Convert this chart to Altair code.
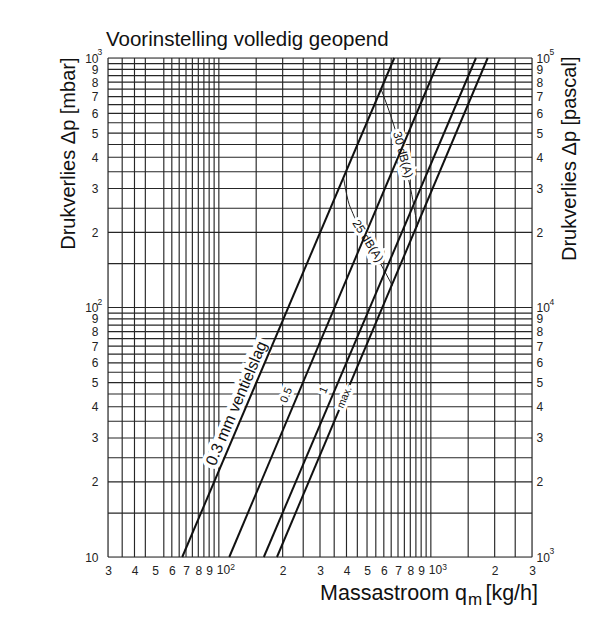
import altair as alt
import pandas as pd

# ---- data ----
settings = ["0.3", "0.5", "1", "max."]
q_at_10mbar = [67.2, 112, 163, 188]        # kg/h at 10 mbar
q_at_1000mbar = [672, 1104, 1632, 1854]    # kg/h at 1000 mbar

db30_q = [582, 635, 677, 739, 797, 864]
db30_p = [751, 614, 520, 394, 308, 211]
db25_q = [387, 407, 429, 494, 576, 658]
db25_p = [332, 268, 238, 189, 151, 122.5]

grid_x = [30, 35, 40, 45, 55, 60, 65, 70, 75, 80, 85, 90, 95, 100,
          150, 200, 250, 300, 350, 400, 450, 500, 550, 600, 650, 700,
          750, 800, 850, 900, 950, 1000, 1500, 2000, 2500, 3000]
grid_y = [10, 15, 20, 25, 30, 35, 40, 45, 50, 55, 60, 65, 70, 75, 80, 85,
          90, 95, 100, 150, 200, 250, 300, 350, 400, 450, 500, 550, 600,
          650, 700, 750, 800, 850, 900, 950, 1000]
x_ticks = [30, 40, 50, 60, 70, 80, 90, 100, 200, 300, 400, 500, 600, 700,
           800, 900, 1000, 2000, 3000]
y_ticks = [10, 20, 30, 40, 50, 60, 70, 80, 90, 100, 200, 300, 400, 500,
           600, 700, 800, 900, 1000]
pa_ticks = [1000, 2000, 3000, 4000, 5000, 6000, 7000, 8000, 9000, 10000,
            20000, 30000, 40000, 50000, 60000, 70000, 80000, 90000, 100000]

# powers of ten on the axes: base "10" plus a raised exponent
x_pow_at = [100, 1000]
x_pow_exp = ["2", "3"]
y_pow_at = [100, 1000]
y_pow_exp = ["2", "3"]
pa_pow_at = [10, 100, 1000]          # same heights as 10^3, 10^4, 10^5 Pa
pa_pow_exp = ["3", "4", "5"]

# line labels
side_lab_text = ["0.5", "1"]
side_lab_q = [209, 313]
side_lab_p = [44.5, 46.6]
inline_lab_text = ["max."]
inline_lab_q = [392]
inline_lab_p = [43.6]
db_lab_text = ["30 dB(A)", "25 dB(A)"]
db_lab_q = [739, 505]
db_lab_p = [410, 185]
db_lab_angle = [75, 58]

FONT = "Liberation Sans"
INK = "#111"
GRID = "#262626"

# ---- tables ----
lines_df = pd.DataFrame({
    "setting": settings * 2,
    "q": q_at_10mbar + q_at_1000mbar,
    "dp": [10] * 4 + [1000] * 4,
})
db_df = pd.DataFrame({
    "curve": ["30"] * len(db30_q) + ["25"] * len(db25_q),
    "q": db30_q + db25_q,
    "dp": db30_p + db25_p,
})
gx_df = pd.DataFrame({"q": grid_x})
gy_df = pd.DataFrame({"dp": grid_y})
pa_df = pd.DataFrame({"pa": pa_ticks})
main_lab = pd.DataFrame({"t": ["0.3 mm ventielslag"], "q": [134], "dp": [39.8]})
side_lab = pd.DataFrame({"t": side_lab_text, "q": side_lab_q, "dp": side_lab_p})
inline_lab = pd.DataFrame({"t": inline_lab_text, "q": inline_lab_q,
                           "dp": inline_lab_p})
db_lab = pd.DataFrame({"t": db_lab_text, "q": db_lab_q, "dp": db_lab_p,
                       "ang": db_lab_angle})
xpow_df = pd.DataFrame({"q": x_pow_at, "e": x_pow_exp, "dp": [10, 10]})
ypow_df = pd.DataFrame({"dp": y_pow_at, "e": y_pow_exp, "q": [30, 30]})
papow_df = pd.DataFrame({"dp": pa_pow_at, "e": pa_pow_exp, "q": [3000] * 3})

xs = alt.Scale(type="log", domain=[30, 3000], nice=False)
ys = alt.Scale(type="log", domain=[10, 1000], nice=False)
ps = alt.Scale(type="log", domain=[1000, 100000], nice=False)

x_axis = alt.Axis(
    values=x_ticks, grid=False, ticks=False, domain=False, labelOverlap=False,
    labelFlush=False, labelFont=FONT, labelFontSize=12, labelColor="#222",
    labelPadding=8, title=None, orient="bottom",
    labelExpr="datum.value == 100 || datum.value == 1000 ? '' : substring(toString(datum.value), 0, 1)",
)
y_axis = alt.Axis(
    values=y_ticks, grid=False, ticks=False, domain=False, labelOverlap=False,
    labelFont=FONT, labelFontSize=12, labelColor="#222", labelPadding=10,
    orient="left",
    labelExpr="datum.value == 10 || datum.value == 100 || datum.value == 1000 ? '10' : substring(toString(datum.value), 0, 1)",
    title="Drukverlies Δp [mbar]", titleFont=FONT, titleFontSize=20,
    titleFontWeight="normal", titleColor=INK, titleAngle=270,
    titleAlign="right", titleBaseline="alphabetic", titleX=-34, titleY=-1,
)
p_axis = alt.Axis(
    values=pa_ticks, grid=False, ticks=False, domain=False, labelOverlap=False,
    labelFont=FONT, labelFontSize=12, labelColor="#222", labelPadding=4,
    orient="right",
    labelExpr="datum.value == 1000 || datum.value == 10000 || datum.value == 100000 ? '10' : substring(toString(datum.value), 0, 1)",
    title="Drukverlies Δp [pascal]", titleFont=FONT, titleFontSize=20,
    titleFontWeight="normal", titleColor=INK, titleAngle=270,
    titleAlign="right", titleBaseline="alphabetic", titleX=43, titleY=-2,
)

X = alt.X("q:Q", scale=xs, axis=x_axis)
Y = alt.Y("dp:Q", scale=ys, axis=y_axis)

vgrid = alt.Chart(gx_df).mark_rule(color=GRID, strokeWidth=1.15).encode(x=X)
hgrid = alt.Chart(gy_df).mark_rule(color=GRID, strokeWidth=1.15).encode(y=Y)

db_lines = alt.Chart(db_df).mark_line(color="#222", strokeWidth=1,
                                      interpolate="monotone").encode(
    x=X, y=Y, detail="curve:N")

# label halos (white boxes behind the labels)
halo_main = alt.Chart(main_lab).mark_text(
    font=FONT, fontSize=16, angle=293, color="white", stroke="white",
    strokeWidth=8, dy=-10, baseline="middle", align="center").encode(
    x=X, y=Y, text="t:N")
halo_side = alt.Chart(side_lab).mark_text(
    font=FONT, fontSize=11, angle=293, color="white", stroke="white",
    strokeWidth=6, baseline="middle", align="center").encode(
    x=X, y=Y, text="t:N")
halo_db = alt.Chart(db_lab).mark_text(
    font=FONT, fontSize=12, color="white", stroke="white", strokeWidth=6,
    baseline="middle", align="center").encode(
    x=X, y=Y, text="t:N", angle=alt.Angle("ang:Q", scale=None))

flow = alt.Chart(lines_df).mark_line(color=INK, strokeWidth=2).encode(
    x=X, y=Y, detail="setting:N")

# inline label that interrupts its line
halo_inline = alt.Chart(inline_lab).mark_text(
    font=FONT, fontSize=10.5, angle=293, color="white", stroke="white",
    strokeWidth=6, baseline="middle", align="center").encode(
    x=X, y=Y, text="t:N")

text_main = alt.Chart(main_lab).mark_text(
    font=FONT, fontSize=16, angle=293, color=INK, dy=-10, baseline="middle",
    align="center").encode(x=X, y=Y, text="t:N")
text_side = alt.Chart(side_lab).mark_text(
    font=FONT, fontSize=11, angle=293, color=INK, baseline="middle",
    align="center").encode(x=X, y=Y, text="t:N")
text_inline = alt.Chart(inline_lab).mark_text(
    font=FONT, fontSize=10.5, angle=293, color=INK, baseline="middle",
    align="center").encode(x=X, y=Y, text="t:N")
text_db = alt.Chart(db_lab).mark_text(
    font=FONT, fontSize=12, color=INK, baseline="middle", align="center").encode(
    x=X, y=Y, text="t:N", angle=alt.Angle("ang:Q", scale=None))

# powers of ten on the axes
xpow_base = alt.Chart(xpow_df).mark_text(
    font=FONT, fontSize=12, color="#222", align="left", baseline="top",
    dx=-2, dy=8).encode(x=X, y=Y, text=alt.value("10"))
xpow_exp = alt.Chart(xpow_df).mark_text(
    font=FONT, fontSize=8.5, color="#222", align="left", baseline="top",
    dx=11.5, dy=6).encode(x=X, y=Y, text="e:N")
ypow_exp = alt.Chart(ypow_df).mark_text(
    font=FONT, fontSize=8.5, color="#222", align="left", baseline="middle",
    dx=-10.5, dy=-6).encode(x=X, y=Y, text="e:N")
papow_exp = alt.Chart(papow_df).mark_text(
    font=FONT, fontSize=8.5, color="#222", align="left", baseline="middle",
    dx=17.5, dy=-6).encode(x=X, y=Y, text="e:N")

title_df = pd.DataFrame({"t": ["Voorinstelling volledig geopend"]})
title = alt.Chart(title_df).mark_text(
    font=FONT, fontSize=20.5, color=INK, align="left",
    baseline="alphabetic").encode(text="t:N", x=alt.value(-2), y=alt.value(-12))

xt1 = alt.Chart(pd.DataFrame({"t": ["Massastroom q"]})).mark_text(
    font=FONT, fontSize=21.5, color=INK, align="right",
    baseline="alphabetic").encode(text="t:N", x=alt.value(359), y=alt.value(542))
xt2 = alt.Chart(pd.DataFrame({"t": ["m"]})).mark_text(
    font=FONT, fontSize=17, color=INK, align="left",
    baseline="alphabetic").encode(text="t:N", x=alt.value(360), y=alt.value(547))
xt3 = alt.Chart(pd.DataFrame({"t": ["[kg/h]"]})).mark_text(
    font=FONT, fontSize=21.5, color=INK, align="right",
    baseline="alphabetic").encode(text="t:N", x=alt.value(430), y=alt.value(542))

inner = alt.layer(vgrid, hgrid, db_lines, halo_main, halo_side, halo_db, flow,
                  halo_inline, text_main, text_side, text_inline, text_db,
                  xpow_base, xpow_exp, ypow_exp, papow_exp, title, xt1, xt2, xt3)

pa_layer = alt.Chart(pa_df).mark_rule(opacity=0).encode(
    y=alt.Y("pa:Q", scale=ps, axis=p_axis))

chart = alt.layer(inner, pa_layer).resolve_scale(y="independent").properties(
    width=424, height=499,
    padding={"left": 100, "top": 50, "right": 60, "bottom": 56},
    autosize=alt.AutoSizeParams(type="none"),
).configure_view(stroke=INK, strokeWidth=1.6).configure(background="white")

chart.save("out.html", embed_options={"renderer": "svg", "actions": False})
